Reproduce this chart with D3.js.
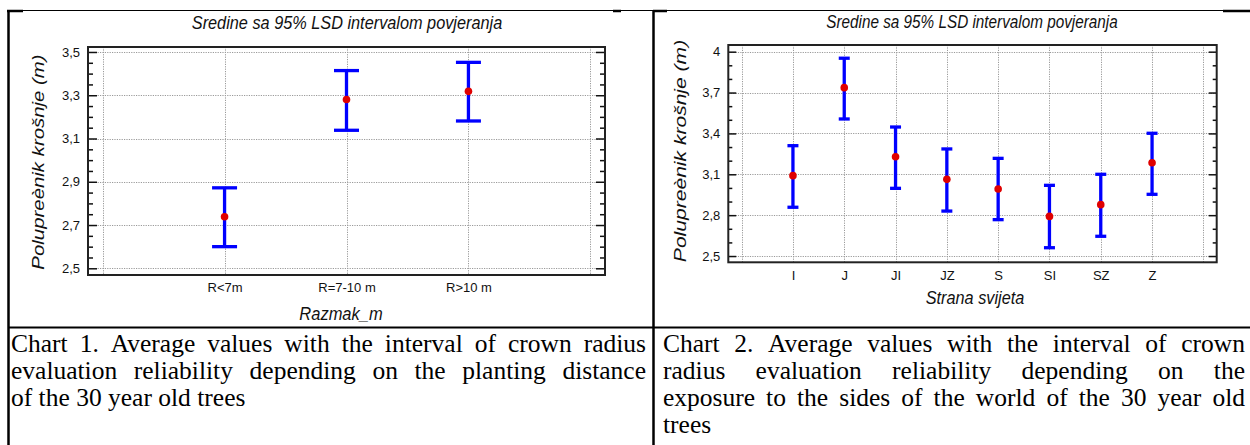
<!DOCTYPE html>
<html>
<head>
<meta charset="utf-8">
<script src="https://cdn.jsdelivr.net/npm/d3@7"></script>
<style>
  html, body { margin: 0; padding: 0; background: #fff; }
  svg { display: block; }
</style>
</head>
<body>
<svg id="chart" width="1250" height="445"></svg>
<script>
// ---------- DATA ----------
const titleText = "Sredine sa 95% LSD intervalom povjeranja";
const yAxisTitle = "Polupreènik krošnje (m)";

// Chart 1
const cats1 = ["R<7m", "R=7-10 m", "R>10 m"];
const mean1 = [2.738, 3.280, 3.318];
const upper1 = [2.872, 3.414, 3.452];
const lower1 = [2.600, 3.138, 3.181];
const yTicks1 = [2.5, 2.7, 2.9, 3.1, 3.3, 3.5];
const yTickLabels1 = ["2,5", "2,7", "2,9", "3,1", "3,3", "3,5"];
const xTitle1 = "Razmak_m";

// Chart 2
const cats2 = ["I", "J", "JI", "JZ", "S", "SI", "SZ", "Z"];
const mean2 = [3.090, 3.736, 3.229, 3.063, 2.992, 2.791, 2.877, 3.185];
const upper2 = [3.310, 3.952, 3.447, 3.286, 3.217, 3.019, 3.100, 3.401];
const lower2 = [2.858, 3.506, 2.997, 2.830, 2.767, 2.561, 2.645, 2.953];
const yTicks2 = [2.5, 2.8, 3.1, 3.4, 3.7, 4.0];
const yTickLabels2 = ["2,5", "2,8", "3,1", "3,4", "3,7", "4"];
const xTitle2 = "Strana svijeta";

// Captions (line breaks as in the original)
const caption1 = [
  "Chart 1. Average values with the interval of crown radius",
  "evaluation reliability depending on the planting distance",
  "of the 30 year old trees"
];
const caption2 = [
  "Chart 2. Average values with the interval of crown",
  "radius evaluation reliability depending on the",
  "exposure to the sides of the world of the 30 year old",
  "trees"
];

// ---------- LAYOUT ----------
const svg = d3.select("#chart");
const SANS = "'Liberation Sans', Arial, sans-serif";
const SERIF = "'Liberation Serif', 'Times New Roman', serif";
const VSTRETCH = 1.15; // the original charts are slightly stretched vertically

// Table lines
const table = svg.append("g").attr("stroke", "#000");
table.append("line").attr("x1", 8).attr("x2", 1223).attr("y1", 10.5).attr("y2", 10.5).attr("stroke-width", 1);
[[7, 23], [613, 621], [653, 667], [1223, 1250]].forEach(s =>
  table.append("line").attr("x1", s[0]).attr("x2", s[1]).attr("y1", 11).attr("y2", 11).attr("stroke-width", 2.5));
table.append("line").attr("x1", 8.5).attr("x2", 8.5).attr("y1", 10).attr("y2", 445).attr("stroke-width", 2.5);
table.append("line").attr("x1", 653.5).attr("x2", 653.5).attr("y1", 10).attr("y2", 445).attr("stroke-width", 2.5);
table.append("line").attr("x1", 8).attr("x2", 1250).attr("y1", 327.5).attr("y2", 327.5).attr("stroke-width", 2);

function drawChart(cfg) {
  const g = svg.append("g");
  const { x0, x1, y0, y1 } = cfg.frame;
  const x = d3.scaleLinear().domain(cfg.xDomain).range([x0, x1]);
  const y = d3.scaleLinear().domain(cfg.yDomain).range([y1, y0]);
  const pos = cfg.cats.map((c, i) => i + 1);
  const gridX = d3.range(0, cfg.cats.length + 2);

  // grid
  const grid = g.append("g").attr("stroke", "#9a9a9a").attr("stroke-width", 1).attr("stroke-dasharray", "1.2,1.2");
  grid.selectAll(".gx").data(gridX).join("line")
    .attr("x1", d => Math.round(x(d)) + 0.5).attr("x2", d => Math.round(x(d)) + 0.5)
    .attr("y1", y0).attr("y2", y1);
  grid.selectAll(".gy").data(cfg.yTicks).join("line")
    .attr("x1", x0).attr("x2", x1)
    .attr("y1", d => Math.round(y(d)) + 0.5).attr("y2", d => Math.round(y(d)) + 0.5);

  const minor = cfg.minorTicks;
  const axL = d3.axisLeft(y).tickValues(cfg.yTicks)
    .tickFormat((d, i) => cfg.yLabels[i]).tickSizeInner(-cfg.majorLen).tickSizeOuter(0).tickPadding(cfg.labelPad);
  const axLm = d3.axisLeft(y).tickValues(minor).tickFormat("").tickSizeInner(-cfg.minorLen).tickSizeOuter(0);
  const axR = d3.axisRight(y).tickValues(cfg.yTicks).tickFormat("").tickSizeInner(-cfg.majorLen).tickSizeOuter(0);
  const axRm = d3.axisRight(y).tickValues(minor).tickFormat("").tickSizeInner(-cfg.minorLen).tickSizeOuter(0);

  [[axL, x0], [axLm, x0], [axR, x1], [axRm, x1]].forEach(([ax, tx]) => {
    const a = g.append("g").attr("transform", `translate(${tx},0)`).call(ax);
    a.select(".domain").remove();
    a.selectAll("line").attr("stroke", "#111").attr("stroke-width", 1.5);
    a.selectAll("text").attr("font-family", SANS).attr("font-size", cfg.tickFont).attr("fill", "#111");
  });

  const axB = d3.axisBottom(x).tickValues(pos).tickFormat((d, i) => cfg.cats[i])
    .tickSize(0).tickPadding(cfg.xPad);
  const b = g.append("g").attr("transform", `translate(0,${y1})`).call(axB);
  b.select(".domain").remove();
  b.selectAll("text").attr("font-family", SANS).attr("font-size", cfg.tickFont).attr("fill", "#111");

  // frame
  g.append("rect").attr("x", x0).attr("y", y0).attr("width", x1 - x0).attr("height", y1 - y0)
    .attr("fill", "none").attr("stroke", "#222").attr("stroke-width", 2);

  // error bars
  const eb = g.append("g").attr("stroke", "#0000ff").attr("stroke-width", cfg.barW);
  eb.selectAll(".v").data(pos).join("line")
    .attr("x1", d => x(d)).attr("x2", d => x(d))
    .attr("y1", (d, i) => y(cfg.upper[i])).attr("y2", (d, i) => y(cfg.lower[i]));
  eb.selectAll(".u").data(pos).join("line")
    .attr("x1", d => x(d) - cfg.capW / 2).attr("x2", d => x(d) + cfg.capW / 2)
    .attr("y1", (d, i) => y(cfg.upper[i])).attr("y2", (d, i) => y(cfg.upper[i]));
  eb.selectAll(".l").data(pos).join("line")
    .attr("x1", d => x(d) - cfg.capW / 2).attr("x2", d => x(d) + cfg.capW / 2)
    .attr("y1", (d, i) => y(cfg.lower[i])).attr("y2", (d, i) => y(cfg.lower[i]));
  g.selectAll(".dot").data(pos).join("circle")
    .attr("cx", d => x(d)).attr("cy", (d, i) => y(cfg.mean[i])).attr("r", 3.8).attr("fill", "#e00000");

  // titles
  g.append("text").attr("transform", `translate(${cfg.titleX},${cfg.titleY}) scale(1,${VSTRETCH})`)
    .attr("text-anchor", "middle")
    .attr("font-family", SANS).attr("font-style", "italic").attr("font-size", cfg.titleFont)
    .attr("fill", "#111").text(titleText);
  g.append("text").attr("transform", `translate(${cfg.xTitleX},${cfg.xTitleY}) scale(1,${VSTRETCH})`)
    .attr("text-anchor", "middle")
    .attr("font-family", SANS).attr("font-style", "italic").attr("font-size", cfg.axisFont)
    .attr("fill", "#111").text(cfg.xTitle);
  g.append("text").attr("transform", `translate(${cfg.yTitleX},${cfg.yTitleY}) rotate(-90) scale(${cfg.yStretch},1)`)
    .attr("text-anchor", "middle").attr("dy", "0.35em")
    .attr("font-family", SANS).attr("font-style", "italic").attr("font-size", cfg.yAxisFont)
    .attr("fill", "#111").text(yAxisTitle);
}

drawChart({
  frame: { x0: 88, x1: 605, y0: 47, y1: 275 },
  xDomain: [-0.12, 4.12], yDomain: [2.469, 3.523],
  cats: cats1, mean: mean1, upper: upper1, lower: lower1,
  yTicks: yTicks1, yLabels: yTickLabels1,
  minorTicks: d3.range(2.55, 3.5, 0.05).filter(v => !yTicks1.some(t => Math.abs(t - v) < 1e-6)),
  majorLen: 9, minorLen: 5, labelPad: 8, xPad: 8, tickFont: 13,
  barW: 3.3, capW: 25,
  titleX: 347, titleY: 29, titleFont: 16.3,
  xTitle: xTitle1, xTitleX: 341, xTitleY: 320, axisFont: 16.5,
  yTitleX: 38, yTitleY: 162, yAxisFont: 17, yStretch: 1.2
});

drawChart({
  frame: { x0: 728.3, x1: 1216.7, y0: 45, y1: 262.3 },
  xDomain: [-0.26, 9.26], yDomain: [2.454, 4.049],
  cats: cats2, mean: mean2, upper: upper2, lower: lower2,
  yTicks: yTicks2, yLabels: yTickLabels2,
  minorTicks: d3.range(2.6, 4.0, 0.1).filter(v => !yTicks2.some(t => Math.abs(t - v) < 1e-6)),
  majorLen: 8, minorLen: 4, labelPad: 8, xPad: 8, tickFont: 13,
  barW: 3.3, capW: 11,
  titleX: 972, titleY: 28, titleFont: 15.3,
  xTitle: xTitle2, xTitleX: 975, xTitleY: 304, axisFont: 16.3,
  yTitleX: 680, yTitleY: 151, yAxisFont: 17, yStretch: 1.24
});

// ---------- CAPTIONS (justified) ----------
function caption(lines, left, right, top, lh) {
  const g = svg.append("g").attr("font-family", SERIF).attr("font-size", 25.5).attr("fill", "#000");
  lines.forEach((line, li) => {
    const yy = top + li * lh;
    const words = line.split(" ");
    if (li === lines.length - 1) {
      g.append("text").attr("x", left).attr("y", yy).text(line);
      return;
    }
    const nodes = words.map(w => g.append("text").attr("y", yy).text(w));
    const widths = nodes.map(n => n.node().getComputedTextLength());
    const total = d3.sum(widths);
    const gap = (right - left - total) / (words.length - 1);
    let cx = left;
    nodes.forEach((n, i) => { n.attr("x", cx); cx += widths[i] + gap; });
  });
}
caption(caption1, 11, 646, 352, 27);
caption(caption2, 663, 1245, 352, 27);
</script>
</body>
</html>
